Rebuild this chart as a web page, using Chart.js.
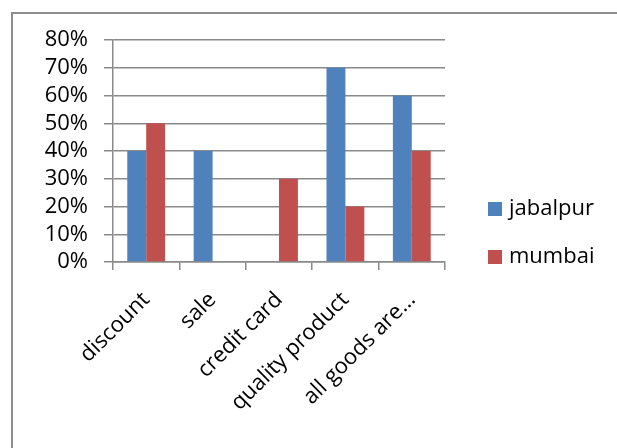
<!DOCTYPE html>
<html>
<head>
<meta charset="utf-8">
<script src="https://cdn.jsdelivr.net/npm/chart.js@4"></script>
<style>
  html, body { margin:0; padding:0; background:#fff; overflow:hidden; }
  #wrap  { position:relative; width:617px; height:448px; }
  #frame { position:absolute; left:11px; top:12px; width:640px; height:480px;
           border:2px solid #8e8e8e; box-sizing:border-box; pointer-events:none; }
  canvas { position:absolute; left:0; top:0; }
</style>
</head>
<body>
<div id="wrap">
  <canvas id="chart" width="617" height="448"></canvas>
  <div id="frame"></div>
</div>
<script>
/* survey answers, share of respondents per city */
const categories = ['discount', 'sale', 'credit card', 'quality product', 'all goods are…'];
const jabalpur   = [0.40, 0.40, 0.00, 0.70, 0.60];
const mumbai     = [0.50, 0.00, 0.30, 0.20, 0.40];
const yTicks     = [0, 0.1, 0.2, 0.3, 0.4, 0.5, 0.6, 0.7, 0.8];

const FONT  = "'Open Sans', sans-serif";
const AXIS  = '#8a8a8a';

/* legend drawn at the right, square swatch + label */
const sideLegend = {
  id: 'sideLegend',
  afterDraw(chart) {
    const ctx = chart.ctx;
    ctx.save();
    ctx.font = '22px ' + FONT;
    ctx.textBaseline = 'middle';
    ctx.textAlign = 'left';
    chart.data.datasets.forEach((ds, i) => {
      const cy = 209 + i * 48;
      ctx.fillStyle = ds.backgroundColor;
      ctx.fillRect(488, cy - 7, 14, 14);
      ctx.fillStyle = '#000';
      ctx.fillText(ds.label, 509, cy);
    });
    ctx.restore();
  }
};

new Chart(document.getElementById('chart').getContext('2d'), {
  type: 'bar',
  data: {
    labels: categories,
    datasets: [
      { label:'jabalpur', data:jabalpur, backgroundColor:'#4f81bd' },
      { label:'mumbai',   data:mumbai,   backgroundColor:'#c0504d' },
    ],
  },
  options: {
    responsive:false, animation:false,
    devicePixelRatio:1,
    layout: { padding: { top:40, right:172, bottom:0, left:0 } },
    datasets: { bar: { categoryPercentage:0.57, barPercentage:1.0 } },
    plugins: { legend:{ display:false }, tooltip:{ enabled:false } },
    scales: {
      x: {
        offset:true,
        grid:   { offset:true, drawOnChartArea:false, drawTicks:true, tickLength:8, color:AXIS, lineWidth:1.5 },
        border: { display:true, color:AXIS, width:1.5 },
        ticks:  { color:'#000', font:{ family:FONT, size:22 }, minRotation:45, maxRotation:45, autoSkip:false, padding:17 },
        afterFit: s => { s.height = 186; },
      },
      y: {
        min:0, max:0.8,
        afterBuildTicks: s => { s.ticks = yTicks.map(v => ({ value:v })); },
        grid:   { color:AXIS, lineWidth:1.5, tickLength:9, drawTicks:true },
        border: { display:true, color:AXIS, width:1.5 },
        ticks:  { color:'#000', font:{ family:FONT, size:22 }, padding:16, autoSkip:false,
                  callback: v => Math.round(v * 100) + '%' },
        afterFit: s => { s.width = 113; },
      },
    },
  },
  plugins: [sideLegend],
});
</script>
</body>
</html>
